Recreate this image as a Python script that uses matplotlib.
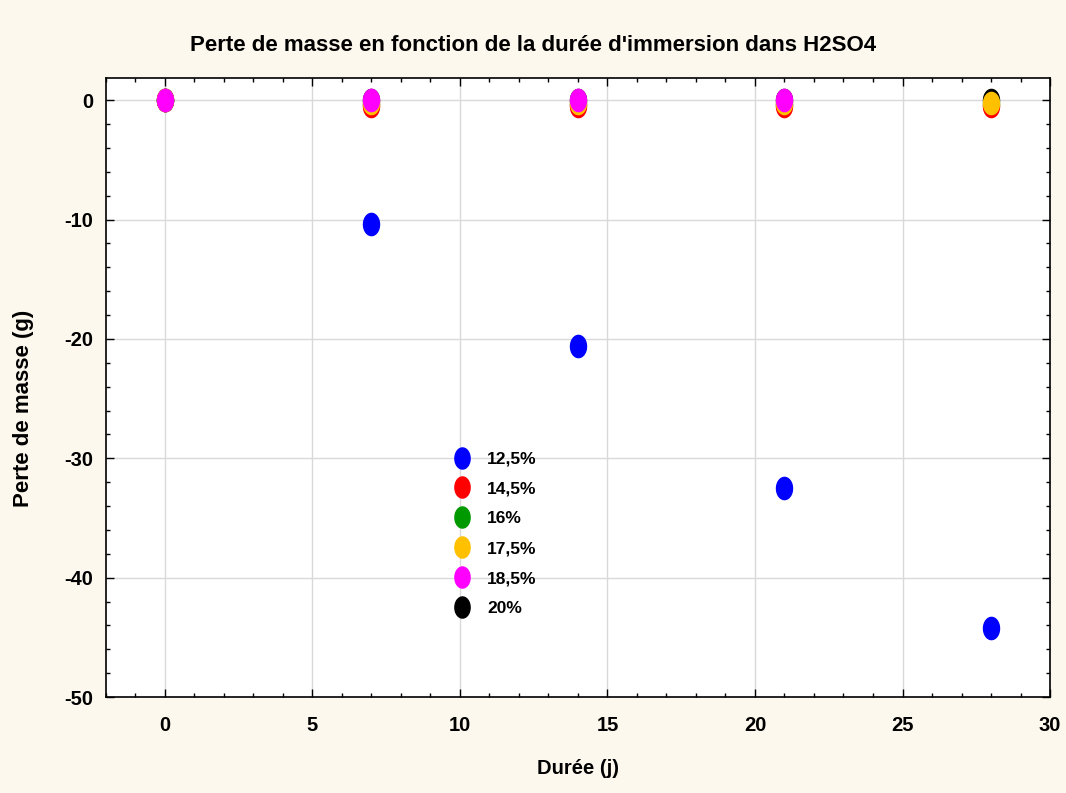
import numpy as np
import matplotlib.pyplot as plt
from matplotlib.path import Path
from matplotlib.ticker import MultipleLocator

# Données
duree = [0, 7, 14, 21, 28]
series = {
    "12,5%": [0, -10.4, -20.6, -32.5, -44.2],
    "14,5%": [0, -0.5, -0.5, -0.5, -0.5],
    "16%": [0, -0.3, -0.3, -0.3, -0.3],
    "17,5%": [0, -0.25, -0.25, -0.25, -0.25],
    "18,5%": [0, 0, 0, 0, np.nan],
    "20%": [0, 0, 0, 0, 0.05],
}
couleurs = ["#0000ff", "#ff0000", "#009900", "#ffc000", "#ff00ff", "#000000"]
ordre = [1, 4, 3, 5, 6, 2]  # superposition des points

plt.rcParams["axes.unicode_minus"] = False
fond = "#fdf8ed"
narrow = ["Liberation Sans Narrow", "DejaVu Sans Condensed", "Liberation Sans"]

# marqueur elliptique (plus haut que large)
t = np.linspace(0, 2 * np.pi, 60)
ellipse = Path(np.column_stack([0.36 * np.cos(t), 0.5 * np.sin(t)]))

fig = plt.figure(figsize=(10.66, 7.93), dpi=100, facecolor=fond)
ax = fig.add_axes([0.0994, 0.121, 0.8856, 0.7806])

for (nom, vals), c, z in zip(series.items(), couleurs, ordre):
    ax.plot(duree, vals, ls="none", marker=ellipse, ms=16, color=c,
            mec=c, label=nom, zorder=z + 2)

ax.set_xlim(-2, 30)
ax.set_ylim(-50, 1.85)
ax.xaxis.set_major_locator(MultipleLocator(5))
ax.xaxis.set_minor_locator(MultipleLocator(1))
ax.yaxis.set_major_locator(MultipleLocator(10))
ax.yaxis.set_minor_locator(MultipleLocator(2))
ax.tick_params(which="both", direction="in", top=True, right=True, width=1)
ax.tick_params(which="major", length=6)
ax.tick_params(axis="x", which="major", pad=14)
ax.tick_params(axis="y", which="major", pad=9)
ax.tick_params(which="minor", length=3)
ax.grid(True, which="major", color="#d9d9d9", lw=1)
ax.set_axisbelow(True)
for s in ax.spines.values():
    s.set_linewidth(1.2)

for lab in ax.get_xticklabels() + ax.get_yticklabels():
    lab.set_family(narrow)
    lab.set_fontweight("bold")
    lab.set_fontsize(14.5)

fig.text(0.5, 0.943, "Perte de masse en fonction de la durée d'immersion dans H2SO4",
         family=narrow, fontweight="bold", fontsize=16, ha="center", va="center")
ax.set_xlabel("Durée (j)", family=narrow, fontweight="bold", fontsize=14.5, labelpad=17)
fig.text(0.0225, 0.485, "Perte de masse (g)", family=["Liberation Sans", "DejaVu Sans"],
         fontweight="bold", fontsize=16, rotation=90, ha="center", va="center")

leg = ax.legend(loc="upper left", bbox_to_anchor=(0.342, 0.422), frameon=False,
                prop={"family": narrow, "weight": "bold", "size": 12.5},
                labelspacing=0.85, handletextpad=0.45, markerscale=0.95)

fig.savefig("out.png", dpi=100, facecolor=fond)
